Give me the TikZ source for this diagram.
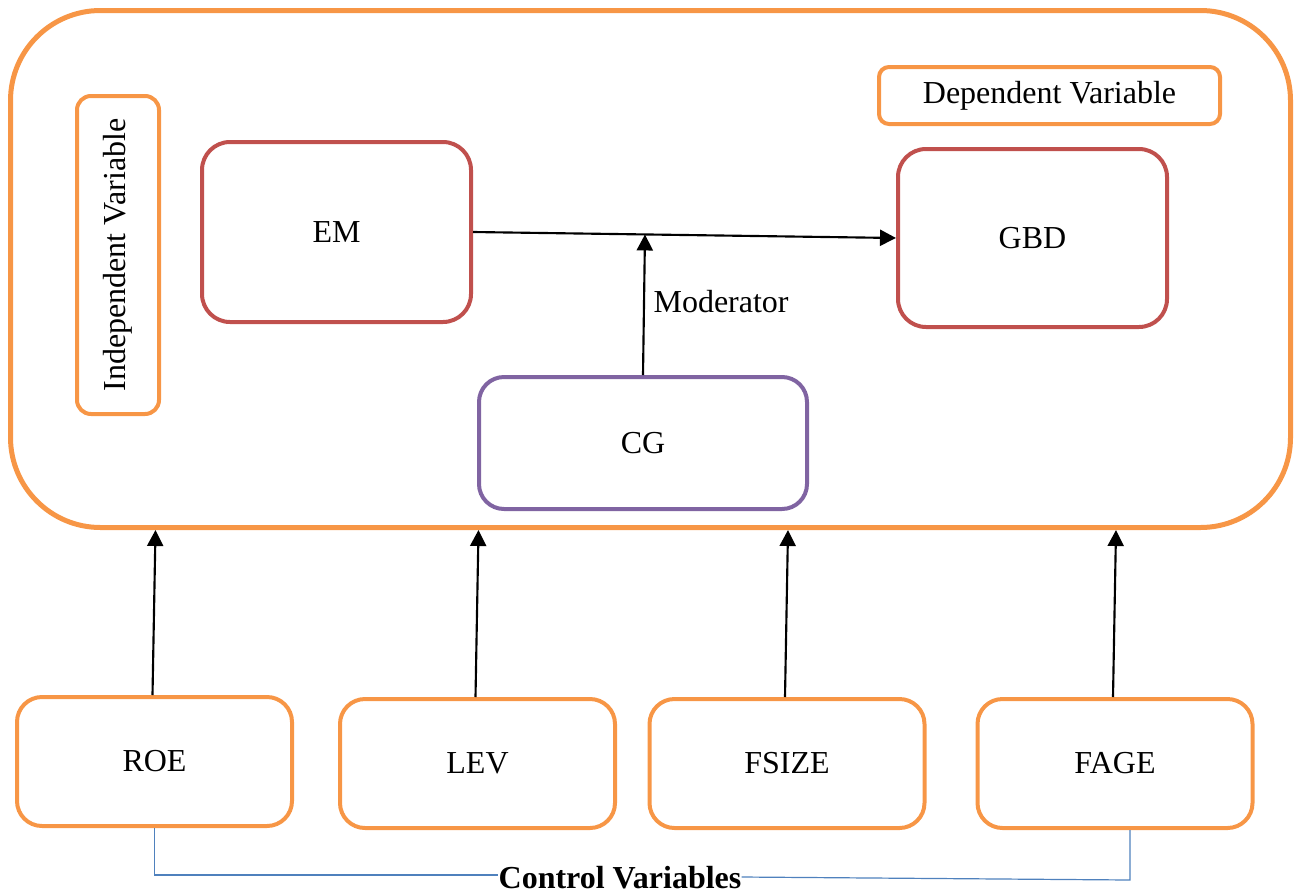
\documentclass[tikz,border=0pt]{standalone}
\usepackage{fontspec}
\setmainfont{Liberation Serif}
\usetikzlibrary{arrows.meta,calc}
\definecolor{orng}{HTML}{F79646}
\definecolor{rred}{HTML}{C0504D}
\definecolor{purp}{HTML}{8064A2}
\definecolor{blu}{HTML}{4F81BD}
\tikzset{
  box/.style={draw, rectangle, align=center, inner sep=0pt, font=\fontsize{24}{28}\selectfont},
  obox/.style={box, draw=orng, line width=3pt},
  rbox/.style={box, draw=rred, line width=3pt, rounded corners=21pt},
  arr/.style={line width=1.6pt, -{Triangle[length=12pt,width=12pt]}},
  ctrlline/.style={draw=blu, line width=0.9pt},
}
\begin{document}
\begin{tikzpicture}[x=0.75pt, y=-0.75pt, font=\fontsize{24}{28}\selectfont]
\useasboundingbox (0,0) rectangle (1295,893);
% outer frame
\node[obox, line width=3.75pt, rounded corners=67.5pt, minimum width=960pt, minimum height=387.75pt] (outer) at (650.5,269) {};
% inner nodes
\node[obox, rounded corners=10.5pt, minimum width=61.5pt, minimum height=238.5pt] (indep) at (118,255) {};
\node[rotate=90] (indeptext) at (118,255) {Independent Variable};
\node[rbox, minimum width=201.75pt, minimum height=135pt] (em) at (336.5,232) {EM};
\node[obox, rounded corners=7.5pt, minimum width=255.75pt, minimum height=42.75pt] (dep) at (1049.5,95.5) {Dependent Variable};
\node[rbox, minimum width=201.75pt, minimum height=133.5pt] (gbd) at (1032.5,238) {GBD};
\node[box, draw=purp, line width=3pt, rounded corners=18.75pt, minimum width=246pt, minimum height=99pt] (cg) at (643,443) {CG};
% bottom boxes
\foreach \n/\t/\x/\y in {roe/ROE/154.5/761.5, lev/LEV/477.5/763.5, fsize/FSIZE/787/763.5, fage/FAGE/1115/763.5}{
  \node[obox, rounded corners=18.75pt, minimum width=206.25pt, minimum height=96.75pt] (\n) at (\x,\y) {\t};
}
% arrows
\draw[arr] (em.east) -- (gbd.west);
\draw[arr] (cg.north) -- ($(em.east)!(cg.north)!(gbd.west)$) node[pos=0.525, right, xshift=3pt] (mod) {Moderator};
\draw[arr] ([xshift=-1.5pt]roe.north) -- ([xshift=0.75pt]roe.north |- outer.south);
\draw[arr] ([xshift=-1.5pt]lev.north) -- ([xshift=0.75pt]lev.north |- outer.south);
\draw[arr] ([xshift=-1.5pt]fsize.north) -- ([xshift=0.75pt]fsize.north |- outer.south);
\draw[arr] ([xshift=-1.5pt]fage.north) -- ([xshift=0.75pt]fage.north |- outer.south);
% control variables
\node[inner sep=0pt, anchor=base, font=\fontsize{24}{28}\selectfont\bfseries] (ctrl) at (620,888) {Control Variables};
\coordinate (cl) at (ctrl.west |- 0,875);
\coordinate (cr) at (1130,880);
\coordinate (crt) at (1130,830);
\draw[ctrlline] (roe.south) |- (cl);
\draw[ctrlline] (ctrl.east |- 0,877) -- (cr) -- (crt);
\end{tikzpicture}
\end{document}
